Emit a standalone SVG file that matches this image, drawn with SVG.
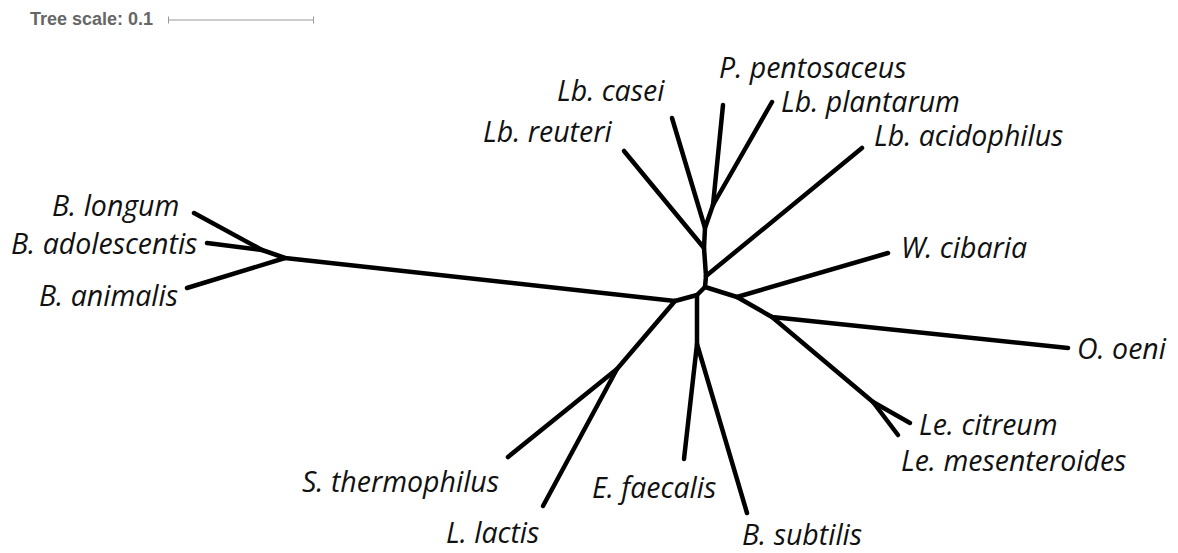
<svg xmlns="http://www.w3.org/2000/svg" width="1178" height="553" viewBox="0 0 1178 553">
  <style>
    .br { fill: none; stroke: #000; stroke-width: 4.5; stroke-linecap: round; stroke-linejoin: round; }
    .lbl { font-family: "Open Sans", "Liberation Sans", sans-serif; font-style: italic; font-size: 28.5px; fill: #111; }
    .scale-txt { font-family: "Liberation Sans", Arial, sans-serif; font-weight: bold; font-size: 18px; fill: #666; }
    .scale-bar { stroke: #999; stroke-width: 1; fill: none; }
  </style>
  <rect width="1178" height="553" fill="#fff"/>

  <!-- scale legend -->
  <g id="tree-scale">
    <text class="scale-txt" x="30" y="24.5">Tree scale: 0.1</text>
    <path class="scale-bar" d="M168 20 H314 M168.5 16.5 V23.5 M313.5 16.5 V23.5"/>
  </g>

  <!-- branches -->
  <g id="branches">
    <!-- lactobacillus clade -->
    <path class="br" d="M705 287 L706 276 L704 248 L705 228 L713 205"/>
    <path class="br" d="M706 276 L862 148"/>
    <path class="br" d="M704 248 L624 151"/>
    <path class="br" d="M705 228 L672 118"/>
    <path class="br" d="M713 205 L723 105"/>
    <path class="br" d="M713 205 L772 102"/>
    <!-- bifidobacteria -->
    <path class="br" d="M705 287 L697 295 L675 301 L285 258 L262 250 L194 213"/>
    <path class="br" d="M262 250 L207 243"/>
    <path class="br" d="M285 258 L187 288"/>
    <!-- streptococcus / lactococcus -->
    <path class="br" d="M675 301 L617 369 L508 457"/>
    <path class="br" d="M617 369 L543 506"/>
    <!-- enterococcus / bacillus -->
    <path class="br" d="M697 295 L697 344 L684 459"/>
    <path class="br" d="M697 344 L747 513"/>
    <!-- weissella / oenococcus / leuconostoc -->
    <path class="br" d="M705 287 L737 297 L888 253"/>
    <path class="br" d="M737 297 L772 317 L1068 348"/>
    <path class="br" d="M772 317 L873 402 L910 423"/>
    <path class="br" d="M873 402 L898 435"/>
  </g>

  <!-- leaf labels -->
  <g id="leaf-b-longum"><text class="lbl" x="52" y="216">B. longum</text></g>
  <g id="leaf-b-adolescentis"><text class="lbl" x="11" y="254">B. adolescentis</text></g>
  <g id="leaf-b-animalis"><text class="lbl" x="39" y="306">B. animalis</text></g>
  <g id="leaf-lb-casei"><text class="lbl" x="557" y="101">Lb. casei</text></g>
  <g id="leaf-lb-reuteri"><text class="lbl" x="483" y="142">Lb. reuteri</text></g>
  <g id="leaf-p-pentosaceus"><text class="lbl" x="719" y="78">P. pentosaceus</text></g>
  <g id="leaf-lb-plantarum"><text class="lbl" x="781" y="112">Lb. plantarum</text></g>
  <g id="leaf-lb-acidophilus"><text class="lbl" x="874" y="146">Lb. acidophilus</text></g>
  <g id="leaf-w-cibaria"><text class="lbl" x="901" y="258">W. cibaria</text></g>
  <g id="leaf-o-oeni"><text class="lbl" x="1077" y="359">O. oeni</text></g>
  <g id="leaf-le-citreum"><text class="lbl" x="919" y="435">Le. citreum</text></g>
  <g id="leaf-le-mesenteroides"><text class="lbl" x="901" y="471">Le. mesenteroides</text></g>
  <g id="leaf-s-thermophilus"><text class="lbl" x="302" y="492">S. thermophilus</text></g>
  <g id="leaf-l-lactis"><text class="lbl" x="446" y="543">L. lactis</text></g>
  <g id="leaf-e-faecalis"><text class="lbl" x="592" y="498">E. faecalis</text></g>
  <g id="leaf-b-subtilis"><text class="lbl" x="742" y="545">B. subtilis</text></g>
</svg>
